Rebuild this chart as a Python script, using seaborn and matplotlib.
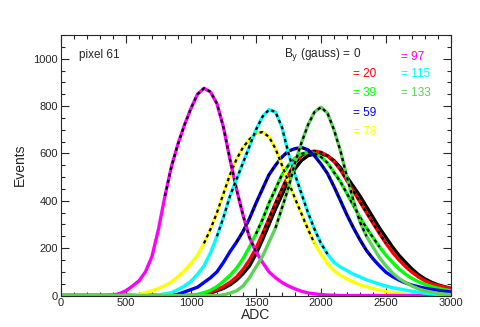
import matplotlib
matplotlib.use('Agg')
import matplotlib.pyplot as plt
from matplotlib.ticker import MultipleLocator
import pandas as pd
import seaborn as sns

# ADC bin centres, 50 wide
adc = list(range(0, 3001, 50))

# B_y (gauss) of each run and its colour
fields = ['0', '20', '39', '59', '78', '97', '115', '133']
colors = ['#000000', '#ff0000', '#00ff00', '#0000ff', '#ffff00', '#ff00ff', '#00ffff', '#59d454']

# events per bin
ev_0 = [0] * 21 + [1, 4, 10, 20, 30, 45, 65, 92, 125, 175, 235, 300, 365, 425, 485, 535, 570,
                   590, 598, 598, 590, 570, 540, 500, 460, 420, 375, 330, 285, 245, 205, 170,
                   140, 112, 88, 70, 56, 45, 37, 30]
ev_20 = [0] * 21 + [2, 6, 15, 25, 38, 55, 78, 110, 150, 200, 260, 325, 390, 450, 510, 560, 590,
                    605, 610, 605, 590, 565, 530, 485, 440, 395, 350, 305, 262, 220, 182, 150,
                    122, 98, 78, 62, 50, 42, 36, 30]
ev_39 = [0] * 20 + [2, 5, 12, 22, 38, 60, 85, 115, 155, 205, 260, 320, 390, 450, 510, 550, 580,
                    598, 605, 600, 585, 560, 520, 480, 430, 380, 330, 285, 245, 205, 170, 140,
                    112, 90, 72, 58, 47, 38, 31, 25, 20]
ev_59 = [0] * 17 + [2, 5, 15, 25, 35, 55, 75, 100, 140, 185, 225, 270, 325, 390, 450, 510, 550,
                    585, 610, 620, 625, 615, 590, 555, 515, 460, 400, 340, 285, 235, 190, 155,
                    125, 98, 80, 65, 53, 44, 37, 31, 26, 22, 18, 15]
ev_78 = [0] * 12 + [5, 12, 20, 30, 42, 58, 80, 105, 135, 170, 220, 280, 350, 430, 510, 575, 625,
                    660, 685, 690, 670, 620, 550, 480, 410, 345, 280, 220, 175, 135, 105, 85, 70,
                    57, 45, 37, 30, 23, 17, 12, 8, 5, 3, 2, 1] + [0] * 4
ev_97 = [0] * 8 + [2, 8, 20, 40, 62, 100, 165, 280, 420, 545, 640, 720, 790, 850, 875, 860, 810,
                   710, 575, 450, 340, 245, 185, 140, 100, 75, 55, 40, 28, 18, 11, 7, 4, 2,
                   1] + [0] * 18
ev_115 = [0] * 15 + [3, 7, 12, 25, 40, 60, 90, 125, 180, 250, 330, 420, 490, 560, 630, 700, 755,
                     785, 775, 710, 600, 510, 430, 350, 280, 220, 175, 140, 120, 105, 90, 78, 66,
                     57, 48, 40, 33, 28, 23, 18, 14, 10, 7, 4, 2, 1]
ev_133 = [0] * 25 + [3, 10, 20, 40, 75, 120, 165, 225, 285, 370, 455, 560, 645, 720, 775, 795,
                     770, 700, 610, 500, 400, 310, 250, 205, 160, 125, 95, 72, 55, 40, 28, 20, 14,
                     9, 6, 4]

# ADC range of the gaussian fit drawn over each histogram
fit_lo = [1600, 1550, 1500, 1350, 1100, 780, 1170, 1650]
fit_hi = [2550, 2500, 2450, 2400, 1970, 1500, 2050, 2350]

series = [ev_0, ev_20, ev_39, ev_59, ev_78, ev_97, ev_115, ev_133]
df = pd.concat([pd.DataFrame({'ADC': adc, 'Events': ev, 'B': b}) for b, ev in zip(fields, series)])

sns.set_style('ticks')
plt.rcParams['font.family'] = ['Liberation Sans', 'DejaVu Sans']

fig = plt.figure(figsize=(4.8, 3.27), dpi=100)
ax = fig.add_axes([0.127, 0.0963, 0.8126, 0.7967])

for b, col, lo, hi in zip(fields, colors, fit_lo, fit_hi):
    d = df[df['B'] == b]
    sns.lineplot(data=d, x='ADC', y='Events', color=col, lw=2.4, ax=ax, legend=False)
    f = d[(d['ADC'] >= lo) & (d['ADC'] <= hi)]
    sns.lineplot(data=f, x='ADC', y='Events', color='black', lw=1.6, ax=ax, legend=False,
                 dashes=False, linestyle=(0, (1.5, 1.5)))

ax.set_xlim(0, 3000)
ax.set_ylim(0, 1100)
ax.xaxis.set_major_locator(MultipleLocator(500))
ax.xaxis.set_minor_locator(MultipleLocator(100))
ax.yaxis.set_major_locator(MultipleLocator(200))
ax.yaxis.set_minor_locator(MultipleLocator(50))
ax.tick_params(which='both', direction='in', top=True, right=True, labelsize=8, pad=2, width=0.8)
ax.tick_params(which='major', length=6)
ax.tick_params(which='minor', length=3)
for s in ax.spines.values():
    s.set_linewidth(0.8)
ax.set_xlabel('ADC', fontsize=10, labelpad=0)
ax.set_ylabel('Events', fontsize=10, labelpad=5)

ax.text(0.046, 0.925, 'pixel 61', transform=ax.transAxes, fontsize=8.5, va='center')
ax.text(0.572, 0.925, r'B$_{\rm y}$ (gauss) = 0', transform=ax.transAxes, fontsize=8.5, va='center')
pos = {'20': (0.75, 0.852), '39': (0.75, 0.778), '59': (0.75, 0.702), '78': (0.75, 0.629),
       '97': (0.873, 0.915), '115': (0.873, 0.852), '133': (0.873, 0.778)}
for b, col in zip(fields, colors):
    if b in pos:
        ax.text(pos[b][0], pos[b][1], '= ' + b, color=col, transform=ax.transAxes,
                fontsize=8.5, va='center')

fig.savefig('out.png', dpi=100)
